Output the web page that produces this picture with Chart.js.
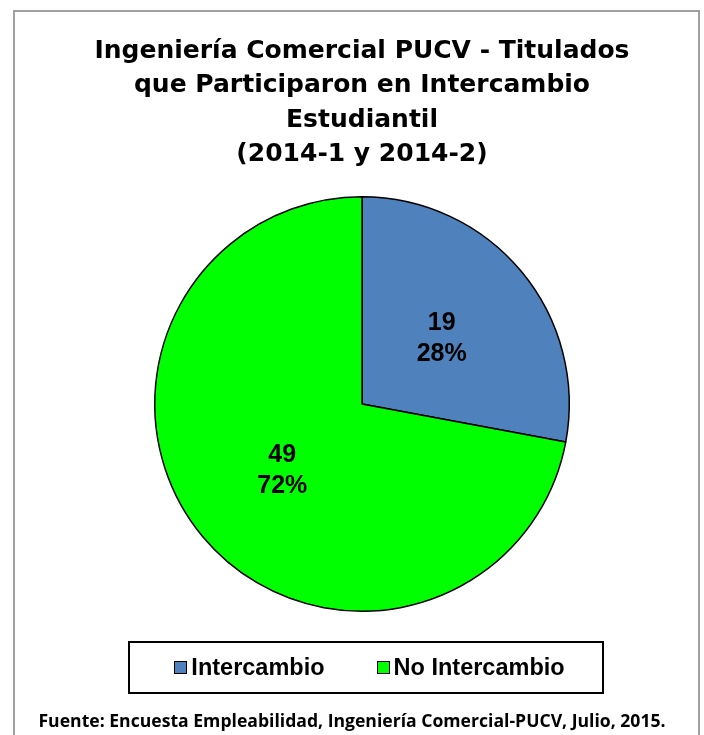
<!DOCTYPE html>
<html>
<head>
<meta charset="utf-8">
<script src="https://cdn.jsdelivr.net/npm/chart.js@4/dist/chart.umd.min.js"></script>
<style>
  body { margin: 0; background: #fff; }
  #frame {
    position: absolute; left: 13px; top: 10px; width: 687px; height: 740px;
    box-sizing: border-box; border: 2px solid #a0a0a0; border-bottom: none;
  }
  #qvPie { position: absolute; left: 0; top: 0; }
  #legend {
    position: absolute; left: 128px; top: 641px; width: 476px; height: 53px;
    box-sizing: border-box; border: 2px solid #000; padding-left: 7px;
    display: flex; align-items: center; justify-content: center;
    font: bold 23.5px "Liberation Sans", Arial, sans-serif; color: #000;
  }
  .item { display: flex; align-items: center; margin: 0 26px; }
  .swatch { width: 11px; height: 11px; border: 1px solid #000; margin-right: 4px; }
  #source {
    position: absolute; left: 0; top: 708px; width: 704px; text-align: center;
    font: bold 17.6px "Open Sans", sans-serif; color: #000;
  }
</style>
</head>
<body>
<div id="frame"></div>
<canvas id="qvPie" width="704" height="735"></canvas>
<div id="legend"></div>
<div id="source">Fuente: Encuesta Empleabilidad, Ingeniería Comercial-PUCV, Julio, 2015.</div>
<script>
const titleLines = [
  'Ingeniería Comercial PUCV - Titulados',
  'que Participaron en Intercambio',
  'Estudiantil',
  '(2014-1 y 2014-2)'
];
const categories = ['Intercambio', 'No Intercambio'];
const counts = [19, 49];
const sliceColors = ['#4f81bd', '#00ff00'];

// value + percent written in the middle of each slice
const sliceLabels = {
  id: 'sliceLabels',
  afterDatasetsDraw(chart) {
    const ctx = chart.ctx;
    const data = chart.data.datasets[0].data;
    const total = data.reduce((a, b) => a + b, 0);
    ctx.save();
    ctx.font = 'bold 25px "Liberation Sans", Arial, sans-serif';
    ctx.fillStyle = '#000';
    ctx.textAlign = 'center';
    ctx.textBaseline = 'middle';
    chart.getDatasetMeta(0).data.forEach(function (arc, i) {
      const p = arc.tooltipPosition();
      ctx.fillText(String(data[i]), p.x, p.y - 15);
      ctx.fillText(Math.round(data[i] / total * 100) + '%', p.x, p.y + 16);
    });
    ctx.restore();
  }
};

const chart = new Chart(document.getElementById('qvPie'), {
  type: 'pie',
  data: {
    labels: categories,
    datasets: [{
      data: counts,
      backgroundColor: sliceColors,
      borderColor: '#000',
      borderWidth: 1.5
    }]
  },
  options: {
    responsive: false,
    animation: false,
    layout: { padding: { top: 34, left: 20, right: 0, bottom: 123 } },
    plugins: {
      legend: { display: false },
      tooltip: { enabled: false },
      title: {
        display: true,
        text: titleLines,
        color: '#000',
        font: { family: '"DejaVu Sans", sans-serif', size: 25, weight: 'bold', lineHeight: 1.38 },
        padding: { top: 0, bottom: 24 }
      }
    }
  },
  plugins: [sliceLabels]
});

const legendBox = document.getElementById('legend');
categories.forEach(function (name, i) {
  const item = document.createElement('div');
  item.className = 'item';
  const sw = document.createElement('span');
  sw.className = 'swatch';
  sw.style.background = sliceColors[i];
  item.appendChild(sw);
  item.appendChild(document.createTextNode(name));
  legendBox.appendChild(item);
});
</script>
</body>
</html>
